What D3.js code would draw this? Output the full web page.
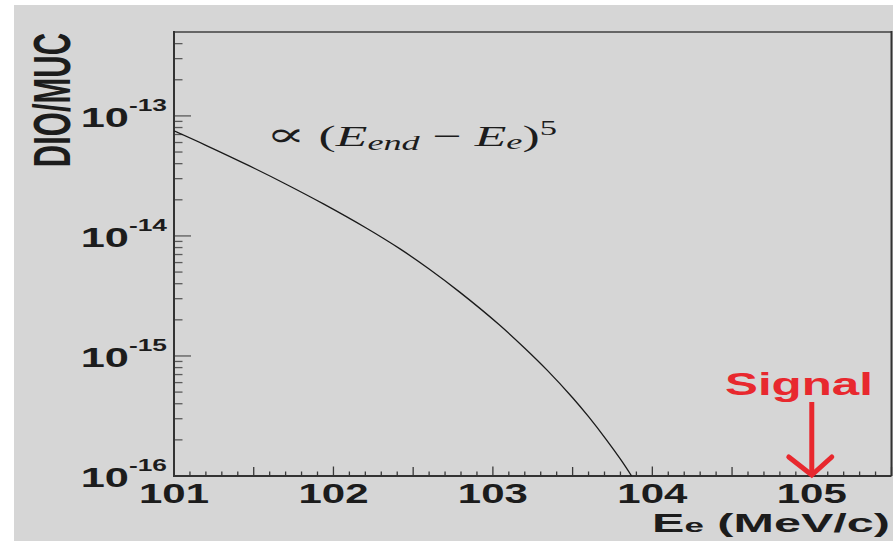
<!DOCTYPE html>
<html>
<head>
<meta charset="utf-8">
<script src="https://cdn.jsdelivr.net/npm/d3@7"></script>
<style>
  body { margin: 0; background: #ffffff; }
  svg { display: block; }
</style>
</head>
<body>
<svg id="chart" width="893" height="543"></svg>
<script>
// Electron energy (MeV/c) and decay-in-orbit rate per muon capture
const energies = [101.00, 101.20, 101.47, 101.70, 101.94, 102.20, 102.42, 102.60, 102.79,
                  103.04, 103.20, 103.34, 103.50, 103.60, 103.71, 103.80, 103.87];
const dioRate = [7.50e-14, 5.69e-14, 3.85e-14, 2.71e-14, 1.84e-14, 1.175e-14, 7.76e-15, 5.30e-15, 3.42e-15,
                 1.82e-15, 1.16e-15, 7.62e-16, 4.49e-16, 3.12e-16, 2.02e-16, 1.38e-16, 1.0e-16];

const xTickValues = [101, 102, 103, 104, 105];
const yDecadeExponents = [-13, -14, -15, -16];
const xDomain = [101, 105.5];
const yDomain = [1e-16, 5e-13];
const signalEnergy = 105;

const svg = d3.select("#chart");
const W = 893, H = 543;
const plot = { left: 174, right: 891.5, top: 32, bottom: 476 };

const FONT = "'Liberation Sans', Arial, Helvetica, sans-serif";
const SERIF = "'Liberation Serif', 'DejaVu Serif', 'Times New Roman', serif";
const INK = "#1c1c1c";

// page background
svg.append("rect").attr("x", 14).attr("y", 5).attr("width", W - 14).attr("height", 536)
  .attr("fill", "#d6d6d6");

const x = d3.scaleLinear().domain(xDomain).range([plot.left, plot.right]);
const y = d3.scaleLog().domain(yDomain).range([plot.bottom, plot.top]);

// scale a text group horizontally so its rendered width equals targetWidth
function stretchTo(group, tx, ty, targetWidth) {
  const w = group.node().getBBox().width;
  group.attr("transform", `translate(${tx},${ty}) scale(${targetWidth / w},1)`);
}

// ---- x axis ticks (major at integers, half and tenth subdivisions) ----
const xMinor = d3.range(1010, 1056).map(v => v / 10).filter(v => !xTickValues.includes(v));
const xGrid = svg.append("g");
xGrid.selectAll("line.minor").data(xMinor).join("line")
  .attr("x1", d => x(d)).attr("x2", d => x(d))
  .attr("y1", plot.bottom)
  .attr("y2", d => plot.bottom - (Math.abs((d * 10) % 10 - 5) < 1e-6 ? 9 : 4.5))
  .attr("stroke", "#3a3a3a").attr("stroke-width", 1.3);
xGrid.selectAll("line.major").data(xTickValues).join("line")
  .attr("x1", d => x(d)).attr("x2", d => x(d))
  .attr("y1", plot.bottom).attr("y2", plot.bottom - 9.5)
  .attr("stroke", "#3a3a3a").attr("stroke-width", 1.3);

// ---- y axis ticks (decades and 2..9 subdivisions) ----
const yMinor = [];
yDecadeExponents.forEach(e => {
  for (let m = 2; m <= 9; m++) {
    const v = m * Math.pow(10, e);
    if (v <= yDomain[1] * 1.0001) yMinor.push(v);
  }
});
const yGrid = svg.append("g");
yGrid.selectAll("line.minor").data(yMinor).join("line")
  .attr("x1", plot.left).attr("x2", plot.left + 8.5)
  .attr("y1", d => y(d)).attr("y2", d => y(d))
  .attr("stroke", "#5a5a5a").attr("stroke-width", 1.3);
yGrid.selectAll("line.major").data(yDecadeExponents.map(e => Math.pow(10, e))).join("line")
  .attr("x1", plot.left).attr("x2", plot.left + 17)
  .attr("y1", d => y(d)).attr("y2", d => y(d))
  .attr("stroke", "#5a5a5a").attr("stroke-width", 1.3);

// ---- frame ----
svg.append("line").attr("x1", plot.left).attr("x2", plot.right)
  .attr("y1", plot.top).attr("y2", plot.top).attr("stroke", "#666").attr("stroke-width", 2);
svg.append("line").attr("x1", plot.right).attr("x2", plot.right)
  .attr("y1", plot.top - 1).attr("y2", plot.bottom).attr("stroke", "#333").attr("stroke-width", 2);
svg.append("line").attr("x1", plot.left).attr("x2", plot.left)
  .attr("y1", plot.top - 1).attr("y2", plot.bottom + 1).attr("stroke", "#333").attr("stroke-width", 2);
svg.append("line").attr("x1", plot.left - 1).attr("x2", plot.right)
  .attr("y1", plot.bottom).attr("y2", plot.bottom).attr("stroke", "#333").attr("stroke-width", 2);

// ---- spectrum curve ----
svg.append("clipPath").attr("id", "plotClip").append("rect")
  .attr("x", plot.left).attr("y", plot.top)
  .attr("width", plot.right - plot.left).attr("height", plot.bottom - plot.top);
const points = energies.map((e, i) => [e, dioRate[i]]);
svg.append("path").datum(points)
  .attr("clip-path", "url(#plotClip)")
  .attr("fill", "none").attr("stroke", "#1a1a1a").attr("stroke-width", 1.3)
  .attr("d", d3.line().x(d => x(d[0])).y(d => y(d[1])).curve(d3.curveCatmullRom.alpha(0.5)));

// ---- x tick labels ----
xTickValues.forEach(v => {
  const g = svg.append("g");
  g.append("text").text(v).attr("text-anchor", "middle")
    .attr("font-family", FONT).attr("font-weight", "bold").attr("font-size", 28).attr("fill", INK);
  g.attr("transform", `translate(${x(v)},503) scale(1.5,1)`);
});

// ---- y tick labels (10^n) ----
yDecadeExponents.forEach(e => {
  const g = svg.append("g");
  const t = g.append("text").attr("text-anchor", "end")
    .attr("font-family", FONT).attr("font-weight", "bold").attr("fill", INK);
  t.append("tspan").attr("font-size", 28).text("10");
  t.append("tspan").attr("font-size", 17).attr("dy", -16).text(String(e));
  g.attr("transform", `translate(167,${y(Math.pow(10, e)) + 11}) scale(1.55,1)`);
});

// ---- axis titles ----
const xt = svg.append("g");
const xtt = xt.append("text").attr("text-anchor", "end")
  .attr("font-family", FONT).attr("font-weight", "bold").attr("fill", INK);
xtt.append("tspan").attr("font-size", 25).text("E");
xtt.append("tspan").attr("font-size", 18).text("e");
xtt.append("tspan").attr("font-size", 25).text(" (MeV/c)");
stretchTo(xt, 890, 532, 238);

const yt = svg.append("g");
yt.append("text").attr("text-anchor", "middle")
  .attr("font-family", FONT).attr("font-weight", "bold").attr("font-size", 31).attr("fill", INK)
  .text("DIO/MUC");
yt.attr("transform", "translate(70,100) scale(1.7,1) rotate(-90)");

// ---- formula label ----
const fg = svg.append("g");
const ft = fg.append("text").attr("font-family", SERIF).attr("font-size", 30).attr("fill", INK);
ft.append("tspan").attr("font-size", 34).text("\u221D");
ft.append("tspan").text(" (");
ft.append("tspan").attr("font-style", "italic").text("E");
ft.append("tspan").attr("font-style", "italic").attr("font-size", 21).attr("dy", 4).text("end");
ft.append("tspan").attr("dy", -4).text(" \u2212 ");
ft.append("tspan").attr("font-style", "italic").text("E");
ft.append("tspan").attr("font-style", "italic").attr("font-size", 21).attr("dy", 3).text("e");
ft.append("tspan").attr("dy", -3).text(")");
ft.append("tspan").attr("font-size", 20).attr("dy", -11).text("5");
stretchTo(fg, 266, 146, 291);

// ---- signal marker ----
const red = "#e8282e";
const sx = x(signalEnergy);
const sg = svg.append("g");
sg.append("text").attr("font-family", FONT).attr("font-weight", "bold").attr("font-size", 32)
  .attr("fill", red).text("Signal");
stretchTo(sg, 725, 395, 148);
svg.append("line").attr("x1", sx).attr("x2", sx).attr("y1", 402).attr("y2", 474)
  .attr("stroke", red).attr("stroke-width", 5);
svg.append("path")
  .attr("d", `M${sx - 23},${457} L${sx},${475} L${sx + 20},${457}`)
  .attr("fill", "none").attr("stroke", red).attr("stroke-width", 5)
  .attr("stroke-linecap", "round").attr("stroke-linejoin", "miter");
</script>
</body>
</html>
